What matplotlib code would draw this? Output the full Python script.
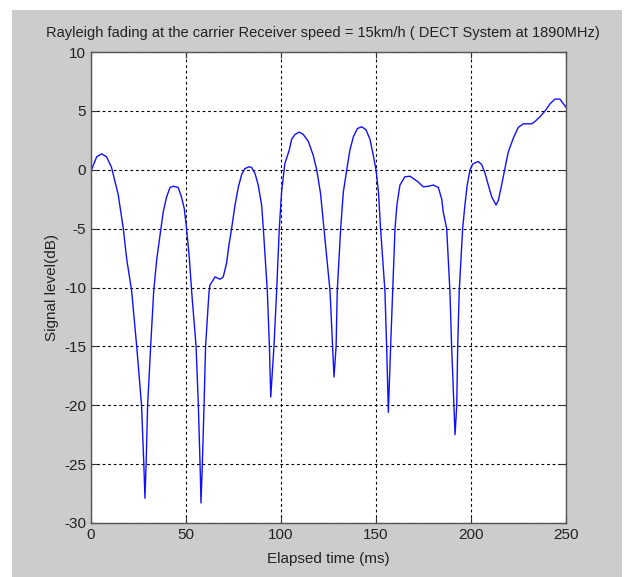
import numpy as np
import matplotlib
matplotlib.use("Agg")
import matplotlib.pyplot as plt
from matplotlib.patches import Rectangle

# values (time in ms, level in dB)
time_ms = [0, 3, 5.6, 8.2, 10.8, 14.3, 17, 18.8, 21.4, 24, 26.6, 27.8, 28.4, 29, 29.8, 31.4,
           33, 34.6, 36.8, 38, 39.8, 41.6, 43.3, 45.9, 47.6, 49.1, 50.3, 51.8, 53, 55.3, 56.5,
           57.4, 57.9, 58.6, 59.5, 60.3, 62.1, 62.6, 65.3, 67.9, 69.6, 71.4, 72.6, 74, 75.8,
           77.5, 79.3, 81, 83.2, 84.5, 86.3, 88, 89.8, 90.7, 92.8, 93.9, 94.6, 95.5, 96.3,
           97.7, 99.1, 100.3, 102, 104.4, 105.6, 107.4, 109.6, 111.7, 114.4, 117, 118.8,
           120.8, 122.6, 125.8, 127.9, 129, 129.6, 131.4, 132.8, 134.6, 136.3, 138.1, 140.2,
           142.5, 144.7, 146.8, 148.6, 150, 151.3, 152.4, 154.7, 155.6, 156.5, 157.7, 158.8,
           160, 161, 162.6, 165.2, 167.9, 171.9, 174.9, 177.6, 180.2, 182.8, 184.6, 185.4,
           187.2, 188.9, 189.8, 191, 191.6, 192.5, 193, 193.8, 195.6, 196.8, 198, 199.5,
           201, 203.8, 205.6, 207.4, 209.1, 210.9, 213.2, 214.4, 216.1, 218, 219.6, 222.3,
           224.9, 227.5, 231.9, 233.7, 236.3, 239, 241.6, 244.2, 246.8, 248.6, 250]
level_db = [-0.1, 1.1, 1.35, 1.1, 0.2, -2.1, -5, -7.6, -10.3, -14.9, -20, -25, -27.9, -25, -20,
            -15, -10.3, -7.6, -5, -3.6, -2.3, -1.5, -1.4, -1.5, -2.3, -3.3, -5, -7.6, -10.4,
            -15, -20, -25, -28.3, -25, -20, -15, -10.4, -9.8, -9.1, -9.3, -9.1, -7.9, -6.4,
            -5, -3, -1.5, -0.4, 0.1, 0.25, 0.2, -0.3, -1.3, -3, -5, -10.3, -15, -19.3, -17,
            -15, -10.3, -5, -1.9, 0.5, 1.7, 2.6, 3.0, 3.2, 3.0, 2.4, 1.2, 0, -2, -5, -10.3,
            -17.6, -15, -10.3, -5, -1.9, 0, 1.7, 2.8, 3.5, 3.65, 3.4, 2.6, 1.2, 0, -1.9, -5,
            -10.3, -15, -20.6, -15, -10.3, -5, -3, -1.3, -0.6, -0.55, -1, -1.45, -1.4, -1.3,
            -1.5, -2.5, -3.6, -5, -10.3, -15, -20, -22.5, -20, -15, -10.3, -5, -3, -1.3, 0,
            0.5, 0.7, 0.45, -0.3, -1.3, -2.3, -3.0, -2.6, -1.3, 0.2, 1.5, 2.7, 3.6, 3.9, 3.9,
            4.1, 4.5, 5.0, 5.6, 6.0, 6.0, 5.6, 5.3]

x_ticks = [0, 50, 100, 150, 200, 250]
y_ticks = [-30, -25, -20, -15, -10, -5, 0, 5, 10]

plt.rcParams['font.family'] = ['Liberation Sans', 'DejaVu Sans']
plt.rcParams['axes.unicode_minus'] = False

fig = plt.figure(figsize=(6.26, 5.77), dpi=100)
fig.patch.set_facecolor('white')
fig.patches.append(Rectangle((12 / 626, 0), 610 / 626, 567 / 577, transform=fig.transFigure,
                             facecolor='#cccccc', edgecolor='none', zorder=-10))

ax = fig.add_axes([91 / 626, 1 - 523 / 577, 475 / 626, 471 / 577])
ax.set_facecolor('white')
ax.plot(time_ms, level_db, color='#1010ff', linewidth=1.0)

ax.set_xlim(0, 250)
ax.set_ylim(-30, 10)
ax.set_xticks(x_ticks)
ax.set_yticks(y_ticks)
ax.tick_params(direction='in', top=True, right=True, length=4, width=0.8,
               colors='#333333', labelsize=11, labelcolor='#222222')
ax.grid(True, color='black', linestyle=(0, (2.5, 2.5)), linewidth=0.8)
for s in ax.spines.values():
    s.set_color('#555555')
    s.set_linewidth(1.0)

ax.set_title('Rayleigh fading at the carrier Receiver speed = 15km/h ( DECT System at 1890MHz)',
             fontsize=10.5, color='#222222', pad=11, x=0.489)
ax.set_xlabel('Elapsed time (ms)', fontsize=11, color='#222222', labelpad=7)
ax.set_ylabel('Signal level(dB)', fontsize=11, color='#222222', labelpad=4)

fig.savefig('out.png', dpi=100)
